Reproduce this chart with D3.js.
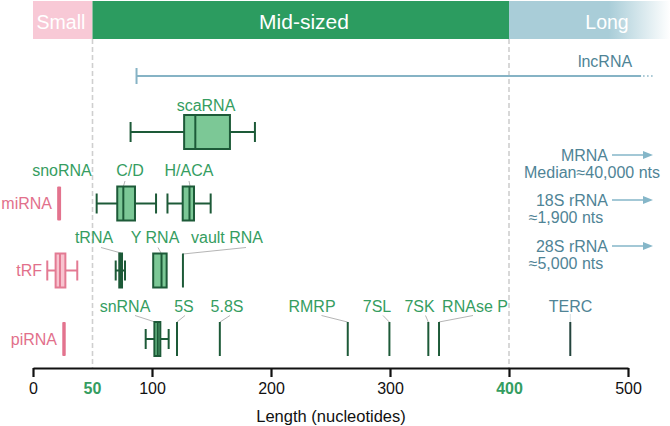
<!DOCTYPE html>
<html><head><meta charset="utf-8">
<script src="https://cdn.jsdelivr.net/npm/d3@7"></script>
<style>
html,body{margin:0;padding:0;background:#fff;}
svg{display:block;font-family:"Liberation Sans",Arial,Helvetica,sans-serif;}
</style></head>
<body>
<svg id="chart" width="670" height="426"></svg>
<script>
// ---------- data ----------
const bandNames = ["Small", "Mid-sized", "Long"];
const bandStart = [0, 50, 400];
const bandEnd = [50, 400, 540];

const boxNames = ["scaRNA", "C/D", "H/ACA", "miRNA", "tRF", "tRNA", "Y RNA", "piRNA", "snRNA"];
const boxRow =   [1, 2, 2, 2, 3, 3, 3, 4, 4];
const boxKind =  ["mid", "mid", "mid", "small", "small", "dark", "mid", "small", "snrna"];
const boxLow =   [82, 53.5, 113, 20.3, 12, 69.5, 101, 24.6, 94.7];
const boxQ1 =    [127, 70.8, 125.8, 20.3, 19, 72.5, 101, 24.6, 102];
const boxMed =   [136.4, 75.9, 131.5, 22, 22.7, 74, 108, 26, 104.8];
const boxQ3 =    [165.5, 85.7, 135.3, 23.6, 27.2, 74.8, 112.3, 27.5, 107];
const boxHigh =  [186.5, 103.4, 149.3, 23.6, 37.2, 77.3, 112.3, 27.5, 114];

const singleNames =  ["vault RNA", "5S", "5.8S", "RMRP", "7SL", "7SK", "RNAse P", "TERC"];
const singleRow =    [3, 4, 4, 4, 4, 4, 4, 4];
const singleLength = [126, 121, 157, 264.5, 299.5, 332.2, 341.2, 451.5];

const lncStart = 87;
const lncEnd = 511;

const longNames = ["MRNA", "18S rRNA", "28S rRNA"];
const longNotes = ["Median\u224840,000 nts", "\u22481,900 nts", "\u22485,000 nts"];

const tickValues = [0, 100, 200, 300, 400, 500];
const boundaryTicks = [50, 400];
const axisTitle = "Length (nucleotides)";

// ---------- layout ----------
const W = 670, H = 426;
const x = d3.scaleLinear().domain([0, 500]).range([33, 628]);
const rowY = d3.scaleOrdinal().domain([0, 1, 2, 3, 4]).range([76, 132, 203.5, 270.5, 339]);
const boxH = 34;
const axisY = 368;

const C = {
  pink: "#f8c9d6", green: "#2c9c60", blue: "#a9cdd8",
  txtGreen: "#359d61", txtPink: "#e2708b", txtBlue: "#4f8496",
  dark: "#1d5a38", boxFill: "#7cc896", leader: "#b5b5b5", arrow: "#85b6c8"
};

const labelLayout = {
  "scaRNA":   {cx: 206, y: 105},
  "snoRNA":   {cx: 62, y: 170},
  "C/D":      {cx: 130, y: 170, l: [125, 181, 123.5, 186]},
  "H/ACA":    {cx: 189, y: 170, l: [189, 181, 190, 186]},
  "tRNA":     {cx: 94, y: 237, l: [101, 247.5, 121, 253]},
  "Y RNA":    {cx: 155, y: 237, l: [158, 247.5, 161, 253]},
  "vault RNA":{cx: 227, y: 237, l: [246, 247.5, 183, 254]},
  "snRNA":    {cx: 125, y: 306, l: [135, 315.5, 155, 322]},
  "5S":       {cx: 184, y: 306, l: [185, 315.5, 177, 322]},
  "5.8S":     {cx: 227, y: 306, l: [230, 315.5, 220, 322]},
  "RMRP":     {cx: 312, y: 306, l: [321.5, 315.5, 347.5, 322]},
  "7SL":      {cx: 377, y: 306, l: [383, 315.5, 389.3, 322]},
  "7SK":      {cx: 419.5, y: 306, l: [425.5, 315.5, 428.3, 322]},
  "RNAse P":  {cx: 475, y: 306, l: [473, 315.5, 439, 322]},
  "TERC":     {cx: 570.5, y: 306, l: [570.3, 314, 570.3, 322]}
};

const svg = d3.select("#chart");
const defs = svg.append("defs");
const grad = defs.append("linearGradient").attr("id", "longGrad")
  .attr("x1", "0%").attr("x2", "100%").attr("y1", "0%").attr("y2", "0%");
grad.append("stop").attr("offset", "0%").attr("stop-color", C.blue);
grad.append("stop").attr("offset", "62%").attr("stop-color", C.blue);
grad.append("stop").attr("offset", "100%").attr("stop-color", "#ffffff");

// ---------- bands ----------
const bandFill = [C.pink, C.green, "url(#longGrad)"];
const bandG = svg.append("g");
bandNames.forEach((n, i) => {
  const x0 = x(bandStart[i]), x1 = Math.min(W, x(bandEnd[i]));
  bandG.append("rect").attr("x", x0).attr("y", 1).attr("width", x1 - x0).attr("height", 38)
    .attr("fill", bandFill[i]);
});
const bandLabelX = [61, 304, 607];
bandNames.forEach((n, i) => {
  bandG.append("text").attr("x", bandLabelX[i]).attr("y", 28.5)
    .attr("text-anchor", "middle").attr("fill", "#fff")
    .attr("font-size", i === 1 ? 21 : 19.5).text(n);
});

// ---------- dashed boundaries ----------
boundaryTicks.forEach(v => {
  svg.append("line").attr("x1", x(v)).attr("x2", x(v)).attr("y1", 39).attr("y2", axisY)
    .attr("stroke", "#cfcfcf").attr("stroke-width", 1.6).attr("stroke-dasharray", "5,3");
});

// ---------- axis ----------
const axis = d3.axisBottom(x).tickValues(tickValues).tickSize(9).tickSizeOuter(0).tickPadding(6)
  .tickFormat(d3.format("d"));
const axG = svg.append("g").attr("transform", `translate(0,${axisY})`).call(axis);
axG.select(".domain").attr("stroke", "#111").attr("stroke-width", 2.2);
axG.selectAll(".tick line").attr("stroke", "#111").attr("stroke-width", 2.2);
axG.selectAll(".tick text").attr("font-size", 16).attr("fill", "#111")
  .attr("font-family", "Liberation Sans, Arial, sans-serif");
axG.selectAll(".tick text").filter(d => boundaryTicks.includes(d))
  .attr("fill", C.txtGreen).attr("font-weight", "bold");
axG.append("text").attr("x", x(50)).attr("y", 15).attr("dy", "0.71em")
  .attr("text-anchor", "middle").attr("font-size", 16).attr("font-weight", "bold")
  .attr("fill", C.txtGreen).text("50");
svg.append("text").attr("x", 331).attr("y", 422).attr("text-anchor", "middle")
  .attr("font-size", 16.5).attr("fill", "#111").text(axisTitle);

// ---------- lncRNA ----------
const ly = rowY(0);
svg.append("line").attr("x1", x(lncStart)).attr("x2", x(lncEnd)).attr("y1", ly).attr("y2", ly)
  .attr("stroke", "#86b3c5").attr("stroke-width", 2);
svg.append("line").attr("x1", x(lncStart)).attr("x2", x(lncStart)).attr("y1", ly - 8).attr("y2", ly + 8)
  .attr("stroke", "#86b3c5").attr("stroke-width", 2);
svg.append("line").attr("x1", x(lncEnd) + 2).attr("x2", x(lncEnd) + 14).attr("y1", ly).attr("y2", ly)
  .attr("stroke", "#86b3c5").attr("stroke-width", 1.5).attr("stroke-dasharray", "1.5,2.5");
svg.append("text").attr("x", 605).attr("y", ly - 9).attr("text-anchor", "middle")
  .attr("font-size", 16).attr("fill", C.txtBlue).text("lncRNA");

// ---------- leaders & labels ----------
const labG = svg.append("g");
Object.entries(labelLayout).forEach(([name, L]) => {
  if (L.l) {
    labG.append("line").attr("x1", L.l[0]).attr("y1", L.l[1]).attr("x2", L.l[2]).attr("y2", L.l[3])
      .attr("stroke", name === "TERC" ? "#d7dfe2" : C.leader).attr("stroke-width", 1);
  }
  labG.append("text").attr("x", L.cx).attr("y", L.y + 5.5).attr("text-anchor", "middle")
    .attr("font-size", 16).attr("fill", name === "TERC" ? C.txtBlue : C.txtGreen).text(name);
});

// ---------- boxes ----------
const boxG = svg.append("g");
boxNames.forEach((n, i) => {
  const cy = rowY(boxRow[i]);
  const kind = boxKind[i];
  let stroke = C.dark, fill = C.boxFill, sw = 2;
  if (kind === "small") { stroke = "#e37a93"; fill = "#f8c3cf"; sw = 2; }
  if (kind === "dark") { fill = C.dark; }
  if (kind === "snrna") { fill = "#6cc08a"; sw = 2; }
  const capH = 20;
  const g = boxG.append("g");
  if (boxLow[i] < boxQ1[i]) {
    g.append("line").attr("x1", x(boxLow[i])).attr("x2", x(boxQ1[i])).attr("y1", cy).attr("y2", cy)
      .attr("stroke", stroke).attr("stroke-width", sw);
    g.append("line").attr("x1", x(boxLow[i])).attr("x2", x(boxLow[i])).attr("y1", cy - capH / 2).attr("y2", cy + capH / 2)
      .attr("stroke", stroke).attr("stroke-width", sw);
  }
  if (boxHigh[i] > boxQ3[i]) {
    g.append("line").attr("x1", x(boxQ3[i])).attr("x2", x(boxHigh[i])).attr("y1", cy).attr("y2", cy)
      .attr("stroke", stroke).attr("stroke-width", sw);
    g.append("line").attr("x1", x(boxHigh[i])).attr("x2", x(boxHigh[i])).attr("y1", cy - capH / 2).attr("y2", cy + capH / 2)
      .attr("stroke", stroke).attr("stroke-width", sw);
  }
  if (n === "miRNA" || n === "piRNA") {
    g.append("rect").attr("x", x(boxQ1[i])).attr("y", cy - boxH / 2)
      .attr("width", x(boxQ3[i]) - x(boxQ1[i])).attr("height", boxH)
      .attr("fill", "#e3738e").attr("rx", 1);
  } else {
    g.append("rect").attr("x", x(boxQ1[i])).attr("y", cy - boxH / 2)
      .attr("width", x(boxQ3[i]) - x(boxQ1[i])).attr("height", boxH)
      .attr("fill", fill).attr("stroke", stroke).attr("stroke-width", sw);
    g.append("line").attr("x1", x(boxMed[i])).attr("x2", x(boxMed[i]))
      .attr("y1", cy - boxH / 2).attr("y2", cy + boxH / 2)
      .attr("stroke", stroke).attr("stroke-width", sw);
  }
});

// small RNA row labels (left, pink)
const smallLabelEnd = {"miRNA": 52, "tRF": 42, "piRNA": 57};
Object.entries(smallLabelEnd).forEach(([n, ex]) => {
  const i = boxNames.indexOf(n);
  svg.append("text").attr("x", ex).attr("y", rowY(boxRow[i]) + 5.5).attr("text-anchor", "end")
    .attr("font-size", 16).attr("fill", C.txtPink).text(n);
});

// ---------- single-length RNAs ----------
singleNames.forEach((n, i) => {
  const cy = rowY(singleRow[i]);
  svg.append("line").attr("x1", x(singleLength[i])).attr("x2", x(singleLength[i]))
    .attr("y1", cy - boxH / 2).attr("y2", cy + boxH / 2)
    .attr("stroke", n === "TERC" ? "#24443d" : C.dark).attr("stroke-width", 2);
});

// ---------- long RNAs (off scale) ----------
const longY = [155, 200, 246];
longNames.forEach((n, i) => {
  const y = longY[i];
  svg.append("text").attr("x", 608).attr("y", y + 5.5).attr("text-anchor", "end")
    .attr("font-size", 16).attr("fill", C.txtBlue).text(n);
  svg.append("line").attr("x1", 612).attr("x2", 644).attr("y1", y).attr("y2", y)
    .attr("stroke", C.arrow).attr("stroke-width", 1.5);
  svg.append("path").attr("d", `M643,${y - 4} L653,${y} L643,${y + 4} Z`).attr("fill", C.arrow);
  svg.append("text").attr("x", i === 0 ? 592 : 566).attr("y", y + 17 + 5.5).attr("text-anchor", "middle")
    .attr("font-size", 16).attr("fill", C.txtBlue).text(longNotes[i]);
});
</script>
</body></html>
